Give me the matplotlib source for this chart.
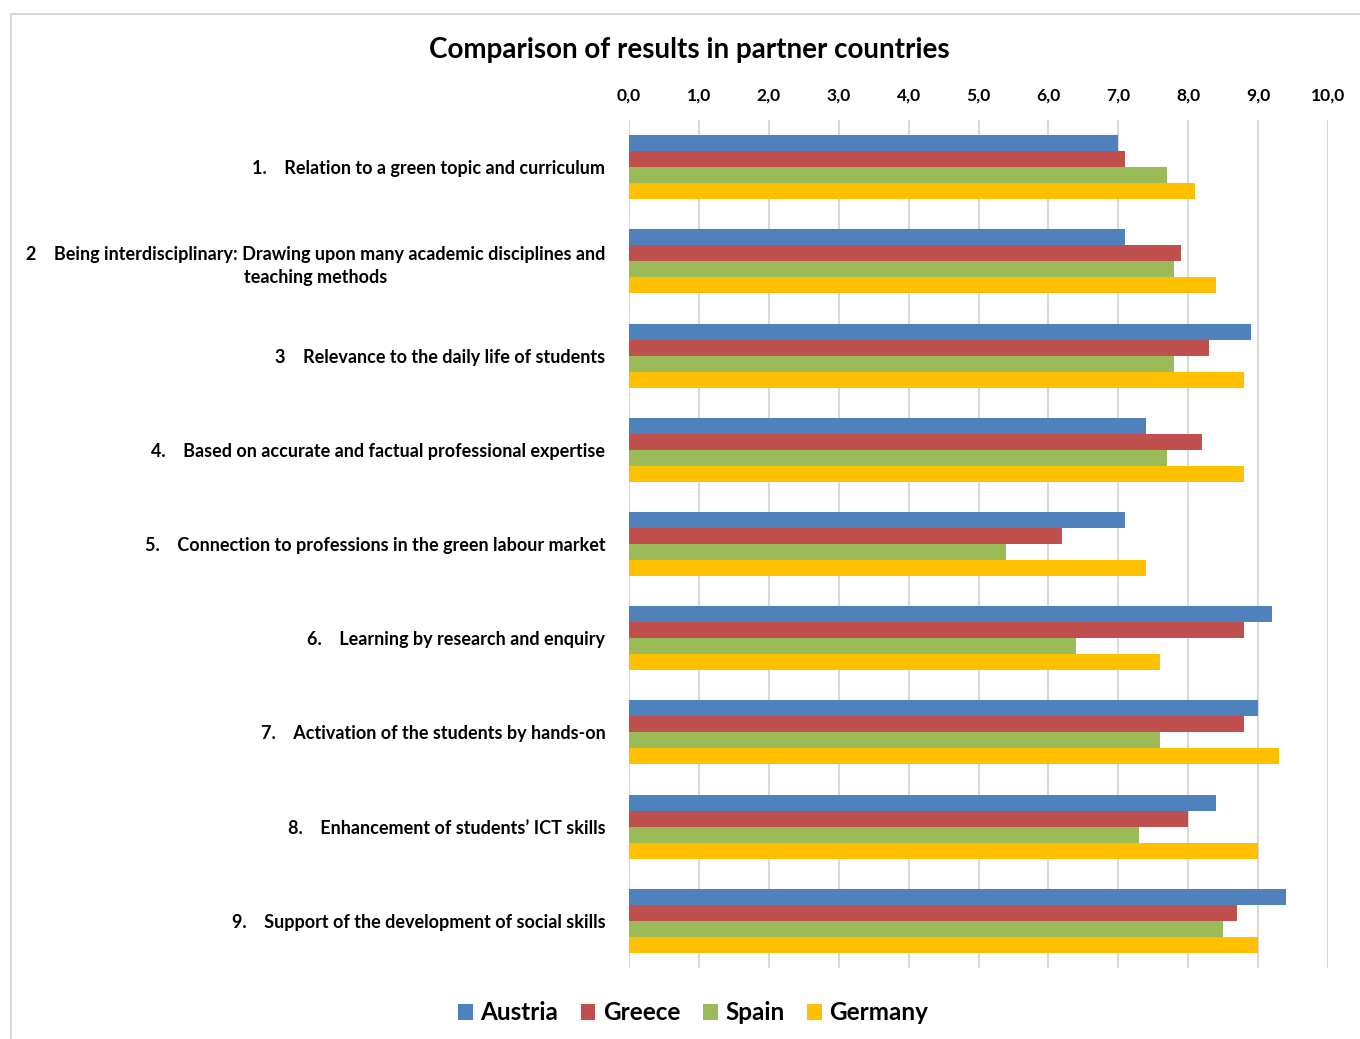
import numpy as np
import matplotlib.pyplot as plt
from matplotlib.patches import Rectangle

plt.rcParams['font.family'] = ['Lato', 'DejaVu Sans']
plt.rcParams['font.weight'] = 'bold'

criteria = [
    "1.    Relation to a green topic and curriculum",
    "2    Being interdisciplinary: Drawing upon many academic disciplines and\nteaching methods",
    "3    Relevance to the daily life of students",
    "4.    Based on accurate and factual professional expertise",
    "5.    Connection to professions in the green labour market",
    "6.    Learning by research and enquiry",
    "7.    Activation of the students by hands-on",
    "8.    Enhancement of students\u2019 ICT skills",
    "9.    Support of the development of social skills",
]
austria = [7.0, 7.1, 8.9, 7.4, 7.1, 9.2, 9.0, 8.4, 9.4]
greece  = [7.1, 7.9, 8.3, 8.2, 6.2, 8.8, 8.8, 8.0, 8.7]
spain   = [7.7, 7.8, 7.8, 7.7, 5.4, 6.4, 7.6, 7.3, 8.5]
germany = [8.1, 8.4, 8.8, 8.8, 7.4, 7.6, 9.3, 9.0, 9.0]
countries = ["Austria", "Greece", "Spain", "Germany"]
colors = ["#4F81BD", "#C0504D", "#9BBB59", "#FFC000"]

fig = plt.figure(figsize=(13.6, 10.39), dpi=100)
ax = fig.add_axes([629/1360, 1 - 968/1039, (1328-629)/1360, (968-120)/1039])

# light frame around the chart area
fig.patches.append(Rectangle((11/1360, -0.1), 1.2, 0.1 + (1039-14)/1039,
                             transform=fig.transFigure, fill=False,
                             edgecolor="#d9d9d9", linewidth=1.5))

y = np.arange(len(criteria))
h = 0.17
for k, (vals, name, c) in enumerate(zip([austria, greece, spain, germany], countries, colors)):
    ax.barh(y + (k - 1.5) * h, vals, height=h, color=c, label=name, linewidth=0)

ax.set_xlim(0, 10)
ax.set_ylim(len(criteria) - 0.5, -0.5)
ax.set_xticks(np.arange(0, 11, 1))
ax.set_xticklabels([f"{v:.1f}".replace(".", ",") for v in np.arange(0, 11, 1)], fontsize=12.5)
ax.xaxis.tick_top()
ax.tick_params(axis="x", length=0, pad=12)
ax.tick_params(axis="y", length=0, pad=17)
ax.set_yticks(y)
ax.set_yticklabels(criteria, fontsize=13, multialignment="center", linespacing=1.45)
ax.grid(axis="x", color="#d9d9d9", linewidth=1.5)
ax.set_axisbelow(True)
for s in ax.spines.values():
    s.set_visible(False)

fig.text(689/1360, 1 - 50/1039, "Comparison of results in partner countries",
         ha="center", va="center", fontsize=20, fontweight="bold")

fig.legend(loc="center", bbox_to_anchor=(693/1360, 1 - 1013/1039), ncol=4,
           frameon=False, fontsize=17.5, handlelength=0.6, handleheight=0.6,
           handletextpad=0.3, columnspacing=0.95)

fig.savefig("out.png", dpi=100, facecolor="white")
